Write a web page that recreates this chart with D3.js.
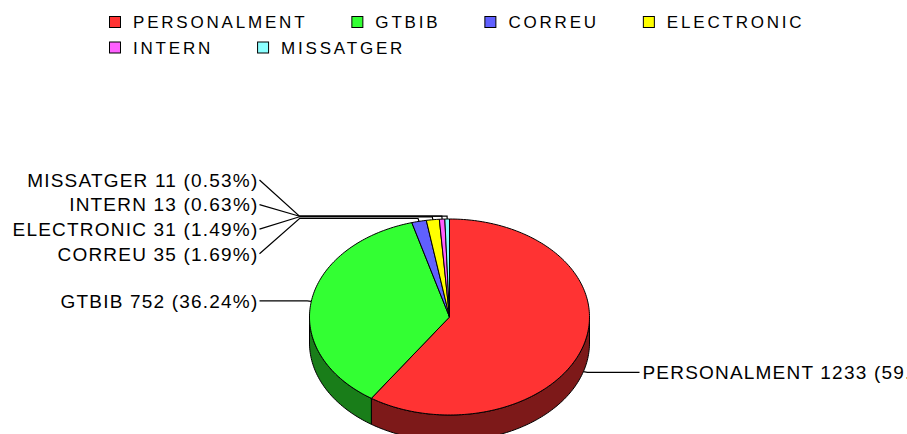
<!DOCTYPE html>
<html>
<head>
<meta charset="utf-8">
<script src="https://cdn.jsdelivr.net/npm/d3@7"></script>
<style>
  body { margin: 0; background: #fff; }
  svg { display: block; }
  text { font-family: "Liberation Sans", Arial, sans-serif; fill: #000; }
</style>
</head>
<body>
<div id="chart"></div>
<script>
// data
var categories = ["PERSONALMENT", "GTBIB", "CORREU", "ELECTRONIC", "INTERN", "MISSATGER"];
var counts = [1233, 752, 35, 31, 13, 11];
var colors = ["#ff3333", "#33ff33", "#6060ff", "#ffff00", "#ff60ff", "#8cffff"];

var width = 907, height = 434;

var svg = d3.select("#chart")
  .append("svg")
  .attr("width", width)
  .attr("height", height);

// pie geometry (3D ellipse)
var cx = 449.5, cy = 317, rx = 140, ry = 98, depth = 26;
var total = d3.sum(counts);
var pct = d3.format(".2%");

var data = categories.map(function(c, i) {
  return {name: c, value: counts[i], color: colors[i]};
});

// d3.pie angles run clockwise from 12 o'clock
var arcs = d3.pie().sort(null).value(function(d) { return d.value; })(data);

function pt(a, dy, k) {
  k = k || 1;
  return [cx + k * rx * Math.sin(a), cy - k * ry * Math.cos(a) + (dy || 0)];
}
function arcPts(a0, a1, dy) {
  var n = Math.max(2, Math.ceil((a1 - a0) / 0.02));
  return d3.range(n + 1).map(function(i) { return pt(a0 + (a1 - a0) * i / n, dy); });
}
var line = d3.line();

// sides (only the front half is visible)
var pieG = svg.append("g");
arcs.forEach(function(a) {
  var s = Math.max(a.startAngle, Math.PI / 2),
      e = Math.min(a.endAngle, 3 * Math.PI / 2);
  if (s >= e) return;
  var pts = arcPts(s, e, 0).concat(arcPts(s, e, depth).reverse());
  pieG.append("path")
    .attr("d", line(pts) + "Z")
    .attr("fill", d3.color(a.data.color).darker(2))
    .attr("stroke", "#000")
    .attr("stroke-width", 1)
    .attr("stroke-linejoin", "round");
});

// top faces
arcs.forEach(function(a) {
  var pts = [[cx, cy]].concat(arcPts(a.startAngle, a.endAngle, 0));
  pieG.append("path")
    .attr("d", line(pts) + "Z")
    .attr("fill", a.data.color)
    .attr("stroke", "#000")
    .attr("stroke-width", 1)
    .attr("stroke-linejoin", "round");
});

// labels
var labelH = 24.6, linkOut = 150, gap = 40;
var recs = arcs.map(function(a) {
  var m = (a.startAngle + a.endAngle) / 2;
  var dy = Math.cos(m) < 0 ? depth : 0;
  var link = pt(m, dy, 1), elbow = pt(m, dy, 1.03);
  return {
    d: a.data, left: Math.sin(m) < 0,
    link: link, elbow: elbow, ideal: elbow[1]
  };
});

function spread(list) {
  list.sort(function(a, b) { return a.ideal - b.ideal; });
  var groups = list.map(function(r) { return {items: [r], c: r.ideal}; });
  var merged = true;
  while (merged) {
    merged = false;
    for (var i = 0; i < groups.length - 1; i++) {
      var g = groups[i], n = groups[i + 1];
      var gBot = g.c + (g.items.length - 1) * labelH / 2,
          nTop = n.c - (n.items.length - 1) * labelH / 2;
      if (nTop - gBot < labelH) {
        var items = g.items.concat(n.items);
        groups.splice(i, 2, {items: items, c: d3.mean(items, function(r) { return r.ideal; })});
        merged = true;
        break;
      }
    }
  }
  groups.forEach(function(g) {
    var top = g.c - (g.items.length - 1) * labelH / 2;
    g.items.forEach(function(r, j) { r.y = top + j * labelH; });
  });
}
spread(recs.filter(function(r) { return r.left; }));
spread(recs.filter(function(r) { return !r.left; }));

var labG = svg.append("g");
recs.forEach(function(r) {
  var ax = r.left ? cx - linkOut : cx + linkOut;
  var tx = r.left ? ax - gap : ax + gap;
  labG.append("path")
    .attr("d", line([r.link, r.elbow, [ax, r.elbow[1]], [tx, r.y]]))
    .attr("fill", "none")
    .attr("stroke", "#000")
    .attr("stroke-width", 1.2);
  labG.append("text")
    .attr("x", r.left ? tx - 1 : tx + 3)
    .attr("y", r.y)
    .attr("dy", "0.36em")
    .attr("text-anchor", r.left ? "end" : "start")
    .style("font-size", "19px")
    .style("letter-spacing", "1.2px")
    .text(r.d.name + " " + r.d.value + " (" + pct(r.d.value / total) + ")");
});

// legend
var legend = svg.append("g").attr("class", "legend");
var lx = 109, ly = 16, rowH = 25.5, sw = 12, perRow = 4;
var x = lx, y = ly;
data.forEach(function(d, i) {
  if (i > 0 && i % perRow == 0) { x = lx; y += rowH; }
  legend.append("rect")
    .attr("x", x + 0.5).attr("y", y + 0.5)
    .attr("width", sw - 1).attr("height", sw - 1)
    .attr("fill", d.color)
    .attr("stroke", "#000");
  var t = legend.append("text")
    .attr("x", x + sw + 12)
    .attr("y", y + sw / 2)
    .attr("dy", "0.36em")
    .style("font-size", "17px")
    .style("letter-spacing", "2.8px")
    .text(d.name);
  x += sw + 12 + t.node().getComputedTextLength() + 44;
});
</script>
</body>
</html>
